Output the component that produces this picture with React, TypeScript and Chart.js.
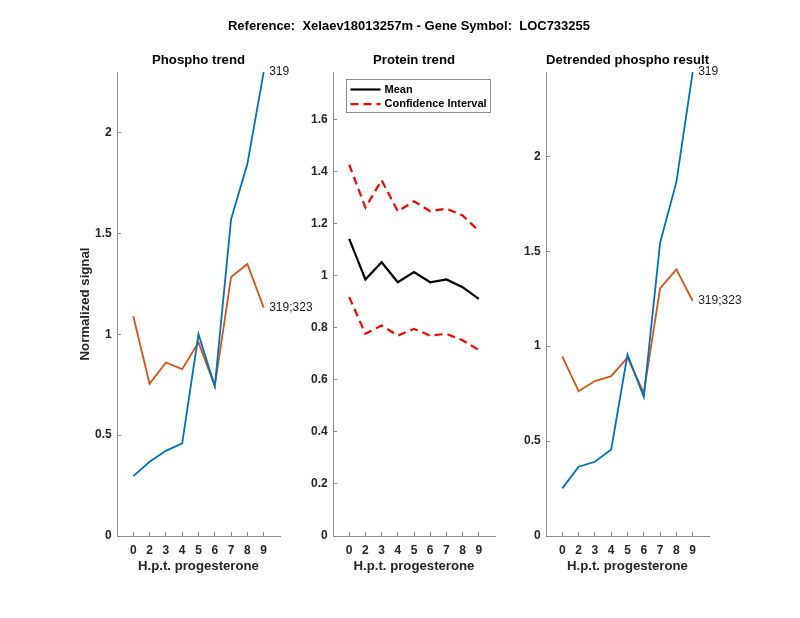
import React, { useEffect, useRef } from 'react';
import { Chart, registerables } from 'chart.js';

Chart.register(...registerables);

const FONT = '"Liberation Sans", Arial, Helvetica, sans-serif';

// ---- data ----
const hptLabels = ['0', '2', '3', '4', '5', '6', '7', '8', '9'];
const phospho319 = [0.297, 0.368, 0.422, 0.459, 1.0, 0.742, 1.57, 1.845, 2.3];
const phospho319_323 = [1.089, 0.754, 0.86, 0.827, 0.96, 0.743, 1.284, 1.348, 1.132];
const proteinMean = [1.142, 0.986, 1.052, 0.975, 1.014, 0.975, 0.986, 0.956, 0.911];
const proteinUpper = [1.427, 1.262, 1.367, 1.248, 1.286, 1.248, 1.258, 1.232, 1.172];
const proteinLower = [0.918, 0.777, 0.809, 0.77, 0.796, 0.77, 0.777, 0.752, 0.715];
const detrended319 = [0.251, 0.365, 0.391, 0.456, 0.956, 0.733, 1.544, 1.865, 2.444];
const detrended319_323 = [0.946, 0.763, 0.816, 0.842, 0.94, 0.754, 1.304, 1.404, 1.238];

const yTicksPhospho = [0, 0.5, 1, 1.5, 2];
const yTicksProtein = [0, 0.2, 0.4, 0.6, 0.8, 1, 1.2, 1.4, 1.6];
const yTicksDetrended = [0, 0.5, 1, 1.5, 2];

const yMaxPhospho = 2.3;
const yMaxProtein = 1.783;
const yMaxDetrended = 2.444;

const mainTitle = 'Reference:  Xelaev18013257m - Gene Symbol:  LOC733255';
const xTitle = 'H.p.t. progesterone';
const yTitle = 'Normalized signal';

const BLUE = '#0072BD';
const ORANGE = '#D95319';
const AXIS = '#8c8c8c';
const TICKTXT = '#262626';

const toPoints = (vals: number[]) => vals.map((v, i) => ({ x: i + 1, y: v }));

const endLabelPlugin = {
  id: 'endLabels',
  afterDatasetsDraw(chart: any) {
    const ctx = chart.ctx;
    chart.data.datasets.forEach((ds: any, i: number) => {
      if (!ds.endLabel) return;
      const meta = chart.getDatasetMeta(i);
      const last = meta.data[meta.data.length - 1];
      if (!last) return;
      ctx.save();
      ctx.font = `12px ${FONT}`;
      ctx.fillStyle = '#1a1a1a';
      ctx.textAlign = 'left';
      ctx.textBaseline = 'middle';
      ctx.fillText(ds.endLabel, last.x + 5.5, last.y);
      ctx.restore();
    });
  },
};

const boxLegendPlugin = {
  id: 'boxLegend',
  afterDraw(chart: any) {
    const opts = chart.options.plugins.boxLegend;
    if (!opts || !opts.display) return;
    const ctx = chart.ctx;
    const ca = chart.chartArea;
    const bx = Math.round(ca.left + 13) + 0.5;
    const by = Math.round(ca.top + 7) + 0.5;
    const bw = 144;
    const bh = 33;
    ctx.save();
    ctx.fillStyle = '#ffffff';
    ctx.fillRect(bx, by, bw, bh);
    ctx.strokeStyle = AXIS;
    ctx.lineWidth = 1;
    ctx.strokeRect(bx, by, bw, bh);
    const rows = opts.items as { ds: number; text: string }[];
    rows.forEach((row, k) => {
      const ds: any = chart.data.datasets[row.ds];
      const y = by + 10 + k * 14.7;
      ctx.beginPath();
      ctx.strokeStyle = ds.borderColor;
      ctx.lineWidth = ds.borderWidth;
      ctx.setLineDash(ds.borderDash || []);
      ctx.moveTo(bx + 4, y);
      ctx.lineTo(bx + 34, y);
      ctx.stroke();
      ctx.setLineDash([]);
      ctx.fillStyle = '#000';
      ctx.font = `bold 11px ${FONT}`;
      ctx.textAlign = 'left';
      ctx.textBaseline = 'middle';
      ctx.fillText(row.text, bx + 38, y);
    });
    ctx.restore();
  },
};

interface PanelSpec {
  left: number;
  right: number;
  yMax: number;
  yTicks: number[];
  title: string;
  showYTitle: boolean;
  datasets: any[];
  legend?: { ds: number; text: string }[];
}

const Y_W = 45;
const X_H = 40;

function makeConfig(p: PanelSpec): any {
  return {
    type: 'line',
    data: { datasets: p.datasets },
    plugins: [endLabelPlugin, boxLegendPlugin],
    options: {
      responsive: false,
      animation: false,
      events: [],
      layout: {
        padding: { left: p.left - Y_W, right: 800 - p.right, top: 50, bottom: 618 - 536 - X_H },
      },
      elements: { point: { radius: 0 }, line: { tension: 0 } },
      plugins: {
        legend: { display: false },
        tooltip: { enabled: false },
        title: {
          display: true,
          text: p.title,
          fullSize: false,
          color: '#000',
          font: { family: FONT, size: 13.2, weight: 'bold' },
          padding: { top: 2.8, bottom: 3.36 },
        },
        boxLegend: { display: !!p.legend, items: p.legend || [] },
      },
      scales: {
        x: {
          type: 'linear',
          min: 0,
          max: 10,
          afterFit: (s: any) => {
            s.height = X_H;
          },
          afterBuildTicks: (s: any) => {
            s.ticks = hptLabels.map((_, i) => ({ value: i + 1 }));
          },
          ticks: {
            autoSkip: false,
            maxRotation: 0,
            padding: 11,
            color: TICKTXT,
            font: { family: FONT, size: 12, weight: 'bold' },
            callback: (_v: any, i: number) => hptLabels[i],
          },
          grid: { drawOnChartArea: false, drawTicks: true, tickLength: -4, color: AXIS },
          border: { display: true, color: AXIS, width: 1 },
          title: {
            display: true,
            text: xTitle,
            color: TICKTXT,
            font: { family: FONT, size: 13.2, weight: 'bold' },
            padding: { top: 0, bottom: 2 },
          },
        },
        y: {
          type: 'linear',
          min: 0,
          max: p.yMax,
          afterFit: (s: any) => {
            s.width = Y_W;
          },
          afterBuildTicks: (s: any) => {
            s.ticks = p.yTicks.map((v) => ({ value: v }));
          },
          ticks: {
            autoSkip: false,
            padding: 9.3,
            color: TICKTXT,
            font: { family: FONT, size: 12, weight: 'bold' },
            callback: (v: any) => String(v),
          },
          grid: { drawOnChartArea: false, drawTicks: true, tickLength: -4, color: AXIS },
          border: { display: true, color: AXIS, width: 1 },
          title: {
            display: p.showYTitle,
            text: yTitle,
            color: TICKTXT,
            font: { family: FONT, size: 13.2, weight: 'bold' },
            padding: { top: 5, bottom: 0 },
          },
        },
      },
    },
  };
}

const panels: PanelSpec[] = [
  {
    left: 117,
    right: 280,
    yMax: yMaxPhospho,
    yTicks: yTicksPhospho,
    title: 'Phospho trend',
    showYTitle: true,
    datasets: [
      { data: toPoints(phospho319), borderColor: BLUE, borderWidth: 1.8, endLabel: '319' },
      { data: toPoints(phospho319_323), borderColor: ORANGE, borderWidth: 1.8, endLabel: '319;323' },
    ],
  },
  {
    left: 333,
    right: 495,
    yMax: yMaxProtein,
    yTicks: yTicksProtein,
    title: 'Protein trend',
    showYTitle: false,
    datasets: [
      { data: toPoints(proteinMean), borderColor: '#000000', borderWidth: 2.2 },
      { data: toPoints(proteinUpper), borderColor: '#ff0000', borderWidth: 2.2, borderDash: [8, 5] },
      { data: toPoints(proteinLower), borderColor: '#ff0000', borderWidth: 2.2, borderDash: [8, 5] },
    ],
    legend: [
      { ds: 0, text: 'Mean' },
      { ds: 1, text: 'Confidence Interval' },
    ],
  },
  {
    left: 546,
    right: 709,
    yMax: yMaxDetrended,
    yTicks: yTicksDetrended,
    title: 'Detrended phospho result',
    showYTitle: false,
    datasets: [
      { data: toPoints(detrended319), borderColor: BLUE, borderWidth: 1.8, endLabel: '319' },
      { data: toPoints(detrended319_323), borderColor: ORANGE, borderWidth: 1.8, endLabel: '319;323' },
    ],
  },
];

function Panel({ spec }: { spec: PanelSpec }) {
  const ref = useRef<HTMLCanvasElement | null>(null);
  useEffect(() => {
    if (!ref.current) return;
    const chart = new Chart(ref.current, makeConfig(spec));
    return () => chart.destroy();
  }, [spec]);
  return (
    <canvas
      ref={ref}
      width={800}
      height={618}
      style={{ position: 'absolute', left: 0, top: 0, width: 800, height: 618 }}
    />
  );
}

export default function App() {
  return (
    <div
      style={{
        position: 'absolute',
        left: 0,
        top: 0,
        width: 800,
        height: 618,
        background: '#ffffff',
        overflow: 'hidden',
      }}
    >
      {panels.map((p, i) => (
        <Panel key={i} spec={p} />
      ))}
      <div
        style={{
          position: 'absolute',
          left: 9,
          top: 18,
          width: 800,
          textAlign: 'center',
          fontFamily: FONT,
          fontWeight: 'bold',
          fontSize: 13,
          lineHeight: '16px',
          color: '#000',
          whiteSpace: 'pre',
        }}
      >
        {mainTitle}
      </div>
    </div>
  );
}
